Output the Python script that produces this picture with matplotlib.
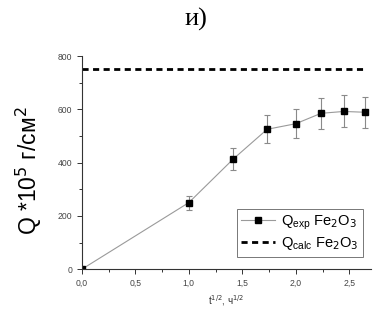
import numpy as np
import matplotlib
matplotlib.use('Agg')
import matplotlib.pyplot as plt
from matplotlib.lines import Line2D
from matplotlib.ticker import MultipleLocator, FuncFormatter

plt.rcParams['font.family'] = ['Liberation Sans', 'DejaVu Sans']

# sqrt of time, h^1/2
t_sqrt = [0.0, 1.0, 1.414, 1.732, 2.0, 2.236, 2.449, 2.646]
q_exp = [0, 250, 413, 525, 546, 585, 592, 589]
q_err = [0, 26, 41, 52, 55, 59, 60, 58]
q_calc = 750

fig = plt.figure(figsize=(3.92, 3.22), dpi=100)
ax = fig.add_axes([0.209, 0.164, 0.7365, 0.662])

ax.errorbar(t_sqrt, q_exp, yerr=q_err, color='#9a9a9a', lw=0.8,
            ecolor='#8a8a8a', elinewidth=0.8, capsize=2, capthick=0.8,
            marker='s', ms=4, mfc='black', mec='black')
ax.plot([t_sqrt[0], t_sqrt[-1]], [q_calc, q_calc], color='black', lw=2,
        ls=(0, (2.2, 1.6)))

ax.set_xlim(0, 2.7)
ax.set_ylim(0, 800)
ax.spines['top'].set_visible(False)
ax.spines['right'].set_visible(False)
for s in ('left', 'bottom'):
    ax.spines[s].set_linewidth(0.8)
    ax.spines[s].set_color('#333333')

ax.xaxis.set_major_locator(MultipleLocator(0.5))
ax.xaxis.set_minor_locator(MultipleLocator(0.25))
ax.yaxis.set_major_locator(MultipleLocator(200))
ax.yaxis.set_minor_locator(MultipleLocator(100))
ax.xaxis.set_major_formatter(FuncFormatter(lambda v, p: ('%.1f' % v).replace('.', ',')))
ax.tick_params(which='both', direction='out', colors='#333333', labelcolor='#444444',
               labelsize=6.2, width=0.7)
ax.tick_params(which='major', length=3.5)
ax.tick_params(which='minor', length=2)

ax.set_ylabel(r'Q *10$^5$ г/см$^2$', fontsize=16.5)
ax.yaxis.set_label_coords(-0.13, 0.46)
ax.set_xlabel(r't$^{1/2}$, ч$^{1/2}$', fontsize=7, color='#333333', labelpad=4)

handles = [
    Line2D([], [], color='#9a9a9a', lw=0.8, marker='s', ms=4,
           mfc='black', mec='black'),
    Line2D([], [], color='black', lw=2, ls=(0, (2.2, 1.6))),
]
labels = [r'Q$_{\mathregular{exp}}$ Fe$_2$O$_3$', r'Q$_{\mathregular{calc}}$ Fe$_2$O$_3$']
leg = ax.legend(handles, labels, loc='lower right', bbox_to_anchor=(0.973, 0.058),
                fontsize=10.5, frameon=True, fancybox=False, handlelength=2.3,
                handletextpad=0.4, borderpad=0.3, labelspacing=0.25, borderaxespad=0)
leg.get_frame().set_edgecolor('#555555')
leg.get_frame().set_linewidth(0.7)

fig.text(0.5, 0.94, 'и)', ha='center', va='center', fontsize=19,
         family='Liberation Serif')

fig.savefig('out.png', dpi=100)
